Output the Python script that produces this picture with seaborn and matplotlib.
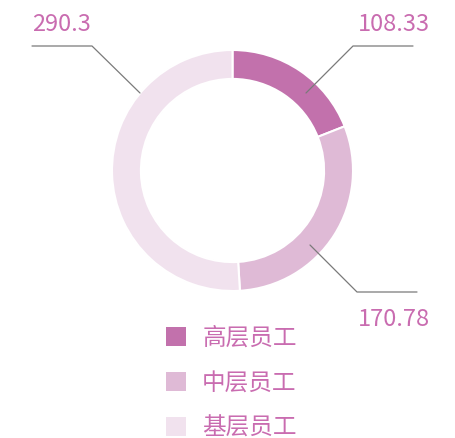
import matplotlib.pyplot as plt
import seaborn as sns
from matplotlib.patches import Patch

# data
labels = ["高层员工", "中层员工", "基层员工"]
values = [108.33, 170.78, 290.3]
value_text = ["108.33", "170.78", "290.3"]
colors = ["#c271ac", "#dfbad6", "#f1e2ee"]
text_color = "#c96cb0"

sns.set_theme(style="white")
plt.rcParams["font.family"] = ["Noto Sans CJK SC", "DejaVu Sans"]

W, H = 456, 438
fig = plt.figure(figsize=(W / 100, H / 100), dpi=100)
ax = fig.add_axes([0, 0, 1, 1])

# pixel layout helpers (pie radius 1 == 120.5 px, centre at 232.5, 170.5)
R, CX, CY = 120.5, 232.5, 170.5
def px(x, y):
    return (x - CX) / R, (CY - y) / R

ax.pie(values, colors=colors, startangle=90, counterclock=False, radius=1,
       wedgeprops=dict(width=0.24, edgecolor="white", linewidth=1.5))
ax.set_aspect("auto")
ax.set_xlim(px(0, 0)[0], px(W, 0)[0])
ax.set_ylim(px(0, H)[1], px(0, 0)[1])
ax.axis("off")

# leader lines: anchor on ring, knee, end ; text position
leaders = [
    ((306, 93), (353, 46), (413, 46), (358, 36), "left", "bottom"),
    ((310, 245), (357, 292), (417, 292), (358, 308), "left", "top"),
    ((140, 93), (92, 46), (32, 46), (32, 36), "left", "bottom"),
]
for txt, (a, k, e, t, ha, va) in zip(value_text, leaders):
    pts = [px(*a), px(*k), px(*e)]
    ax.plot([p[0] for p in pts], [p[1] for p in pts], color="#7a7a7a", lw=0.9)
    ax.text(*px(*t), txt, color=text_color, fontsize=17, fontweight="light",
            ha=ha, va=va)

handles = [Patch(facecolor=c, edgecolor="none") for c in colors]
ax.legend(handles, labels, loc="upper left", bbox_to_anchor=(166 / W, 1 - 327 / H),
          bbox_transform=fig.transFigure, frameon=False,
          prop=dict(size=17, weight="light"),
          handlelength=0.85, handleheight=0.85, handletextpad=0.68,
          labelspacing=0.92, borderpad=0, borderaxespad=0,
          labelcolor=text_color)

fig.savefig("out.png", dpi=100)
